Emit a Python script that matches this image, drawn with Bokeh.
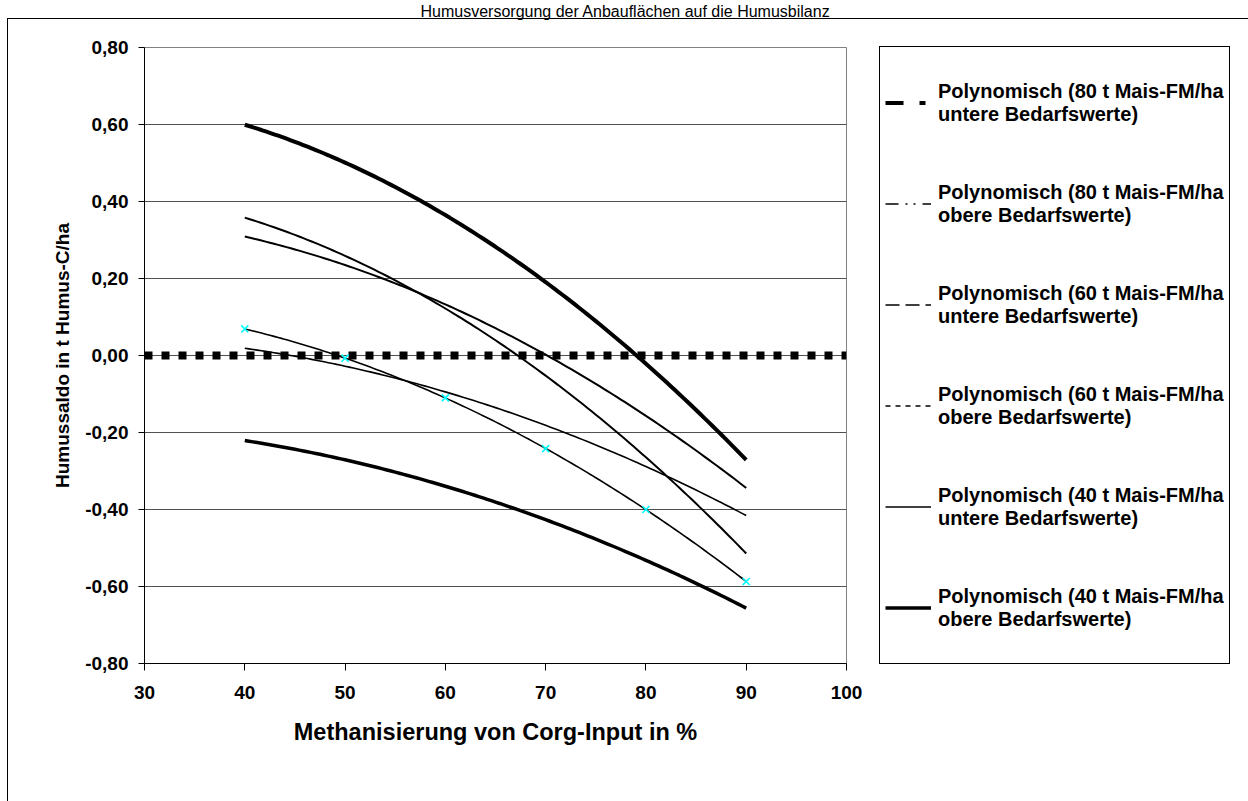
import numpy as np
from bokeh.plotting import figure
from bokeh.models import Legend, LegendItem, FixedTicker, Range1d, InlineStyleSheet, Title
from bokeh.embed import file_html
from bokeh.resources import INLINE

title_text = "Humusversorgung der Anbauflächen auf die Humusbilanz"
x_label = "Methanisierung von Corg-Input in %"
y_label = "Humussaldo in t Humus-C/ha"

methanisierung = [40, 50, 60, 70, 80, 90]
saldo_80_untere = [0.600, 0.500, 0.365, 0.190, -0.020, -0.272]
saldo_80_obere = [0.358, 0.259, 0.122, -0.052, -0.265, -0.514]
saldo_60_untere = [0.309, 0.235, 0.132, 0.003, -0.157, -0.344]
saldo_60_obere = [0.069, -0.007, -0.110, -0.242, -0.400, -0.587]
saldo_40_untere = [0.019, -0.028, -0.095, -0.181, -0.288, -0.416]
saldo_40_obere = [-0.220, -0.272, -0.341, -0.425, -0.531, -0.657]

legend_labels = [
    "Polynomisch (80 t Mais-FM/ha\nuntere Bedarfswerte)",
    "Polynomisch (80 t Mais-FM/ha\nobere Bedarfswerte)",
    "Polynomisch (60 t Mais-FM/ha\nuntere Bedarfswerte)",
    "Polynomisch (60 t Mais-FM/ha\nobere Bedarfswerte)",
    "Polynomisch (40 t Mais-FM/ha\nuntere Bedarfswerte)",
    "Polynomisch (40 t Mais-FM/ha\nobere Bedarfswerte)",
]

x_ticks = [30, 40, 50, 60, 70, 80, 90, 100]
y_ticks = [-0.8, -0.6, -0.4, -0.2, 0.0, 0.2, 0.4, 0.6, 0.8]
y_tick_labels = ["-0,80", "-0,60", "-0,40", "-0,20", "0,00", "0,20", "0,40", "0,60", "0,80"]
zero_x = [30, 100]
zero_y = [0, 0]

FONT = "Liberation Sans"

border_css = InlineStyleSheet(css="""
:host { position: relative; }
:host::after {
  content: "";
  position: absolute;
  left: 7px; top: 18px; right: -4px; bottom: -4px;
  border-left: 1px solid black;
  border-top: 1px solid black;
  pointer-events: none;
}
""")

p = figure(x_range=Range1d(30, 100), y_range=Range1d(-0.8, 0.8),
           frame_width=702, frame_height=616,
           min_border_left=144, min_border_right=402, min_border_top=47, min_border_bottom=138,
           output_backend="svg", toolbar_location=None,
           stylesheets=[border_css])
p.title = None
p.background_fill_color = "white"
p.border_fill_color = "white"
p.outline_line_color = "#808080"
p.outline_line_width = 1

# spacer (closest to the frame) and the chart title above it
p.add_layout(Title(text=" ", text_font=FONT, text_font_size="10px", standoff=15), "above")
p.add_layout(Title(text=title_text, text_font=FONT, text_font_style="normal",
                   text_font_size="16px", text_color="black", align="left",
                   offset=276, standoff=0), "above")

p.xgrid.visible = False
p.ygrid.ticker = FixedTicker(ticks=y_ticks)
p.ygrid.grid_line_color = "#505050"
p.ygrid.grid_line_width = 1

for ax in (p.xaxis[0], p.yaxis[0]):
    ax.axis_line_color = "black"
    ax.major_tick_line_color = "black"
    ax.major_tick_in = 0
    ax.minor_tick_line_color = None
    ax.major_label_text_font = FONT
    ax.major_label_text_font_style = "bold"
    ax.major_label_text_font_size = "19px"
    ax.major_label_text_color = "black"
    ax.axis_label_text_font = FONT
    ax.axis_label_text_font_style = "bold"
    ax.axis_label_text_color = "black"

p.xaxis.ticker = FixedTicker(ticks=x_ticks)
p.yaxis.ticker = FixedTicker(ticks=y_ticks)
p.yaxis.major_label_overrides = {v: s for v, s in zip(y_ticks, y_tick_labels)}
p.xaxis.major_tick_out = 7
p.yaxis.major_tick_out = 6
p.xaxis.axis_label = x_label
p.yaxis.axis_label = y_label
p.xaxis.axis_label_text_font_size = "23.5px"
p.yaxis.axis_label_text_font_size = "19px"
p.xaxis.major_label_standoff = 15
p.yaxis.major_label_standoff = 10
p.xaxis.axis_label_standoff = 17
p.yaxis.axis_label_standoff = 9

# zero line
p.line(zero_x, zero_y, line_color="black", line_width=8, line_dash="8 9")

xs = np.linspace(min(methanisierung), max(methanisierung), 121)
series = [
    (saldo_80_untere, 4.0),
    (saldo_80_obere, 2.0),
    (saldo_60_untere, 2.0),
    (saldo_60_obere, 1.6),
    (saldo_40_untere, 1.6),
    (saldo_40_obere, 3.5),
]
for vals, lw in series:
    coef = np.polyfit(methanisierung, vals, 2)
    p.line(xs, np.polyval(coef, xs), line_color="black", line_width=lw)

p.scatter(methanisierung, saldo_60_obere, marker="x", size=10, line_color="#00FFFF", line_width=1.6)

legend_styles = [
    dict(line_width=4, line_dash="18 16 6 20"),
    dict(line_width=1.5, line_dash="13 7 2 6 2 7"),
    dict(line_width=1.5, line_dash="14 6"),
    dict(line_width=1.5, line_dash="5 5"),
    dict(line_width=1.5, line_dash="solid"),
    dict(line_width=3.5, line_dash="solid"),
]
items = []
for lbl, st in zip(legend_labels, legend_styles):
    r = p.line([np.nan, np.nan], [np.nan, np.nan], line_color="black", **st)
    items.append(LegendItem(label=lbl, renderers=[r]))

legend = Legend(items=items, location=(33, -1), orientation="vertical",
                label_text_font=FONT, label_text_font_style="bold", label_text_font_size="20px",
                label_text_color="black", label_text_line_height=1.15,
                label_height=101, glyph_width=46, glyph_height=23, label_standoff=7,
                padding=5, spacing=0, margin=0,
                border_line_color="black", border_line_width=1, border_line_alpha=1.0,
                background_fill_color="white", background_fill_alpha=1.0)
p.add_layout(legend, "right")

open("out.html", "w").write(file_html(p, INLINE))
